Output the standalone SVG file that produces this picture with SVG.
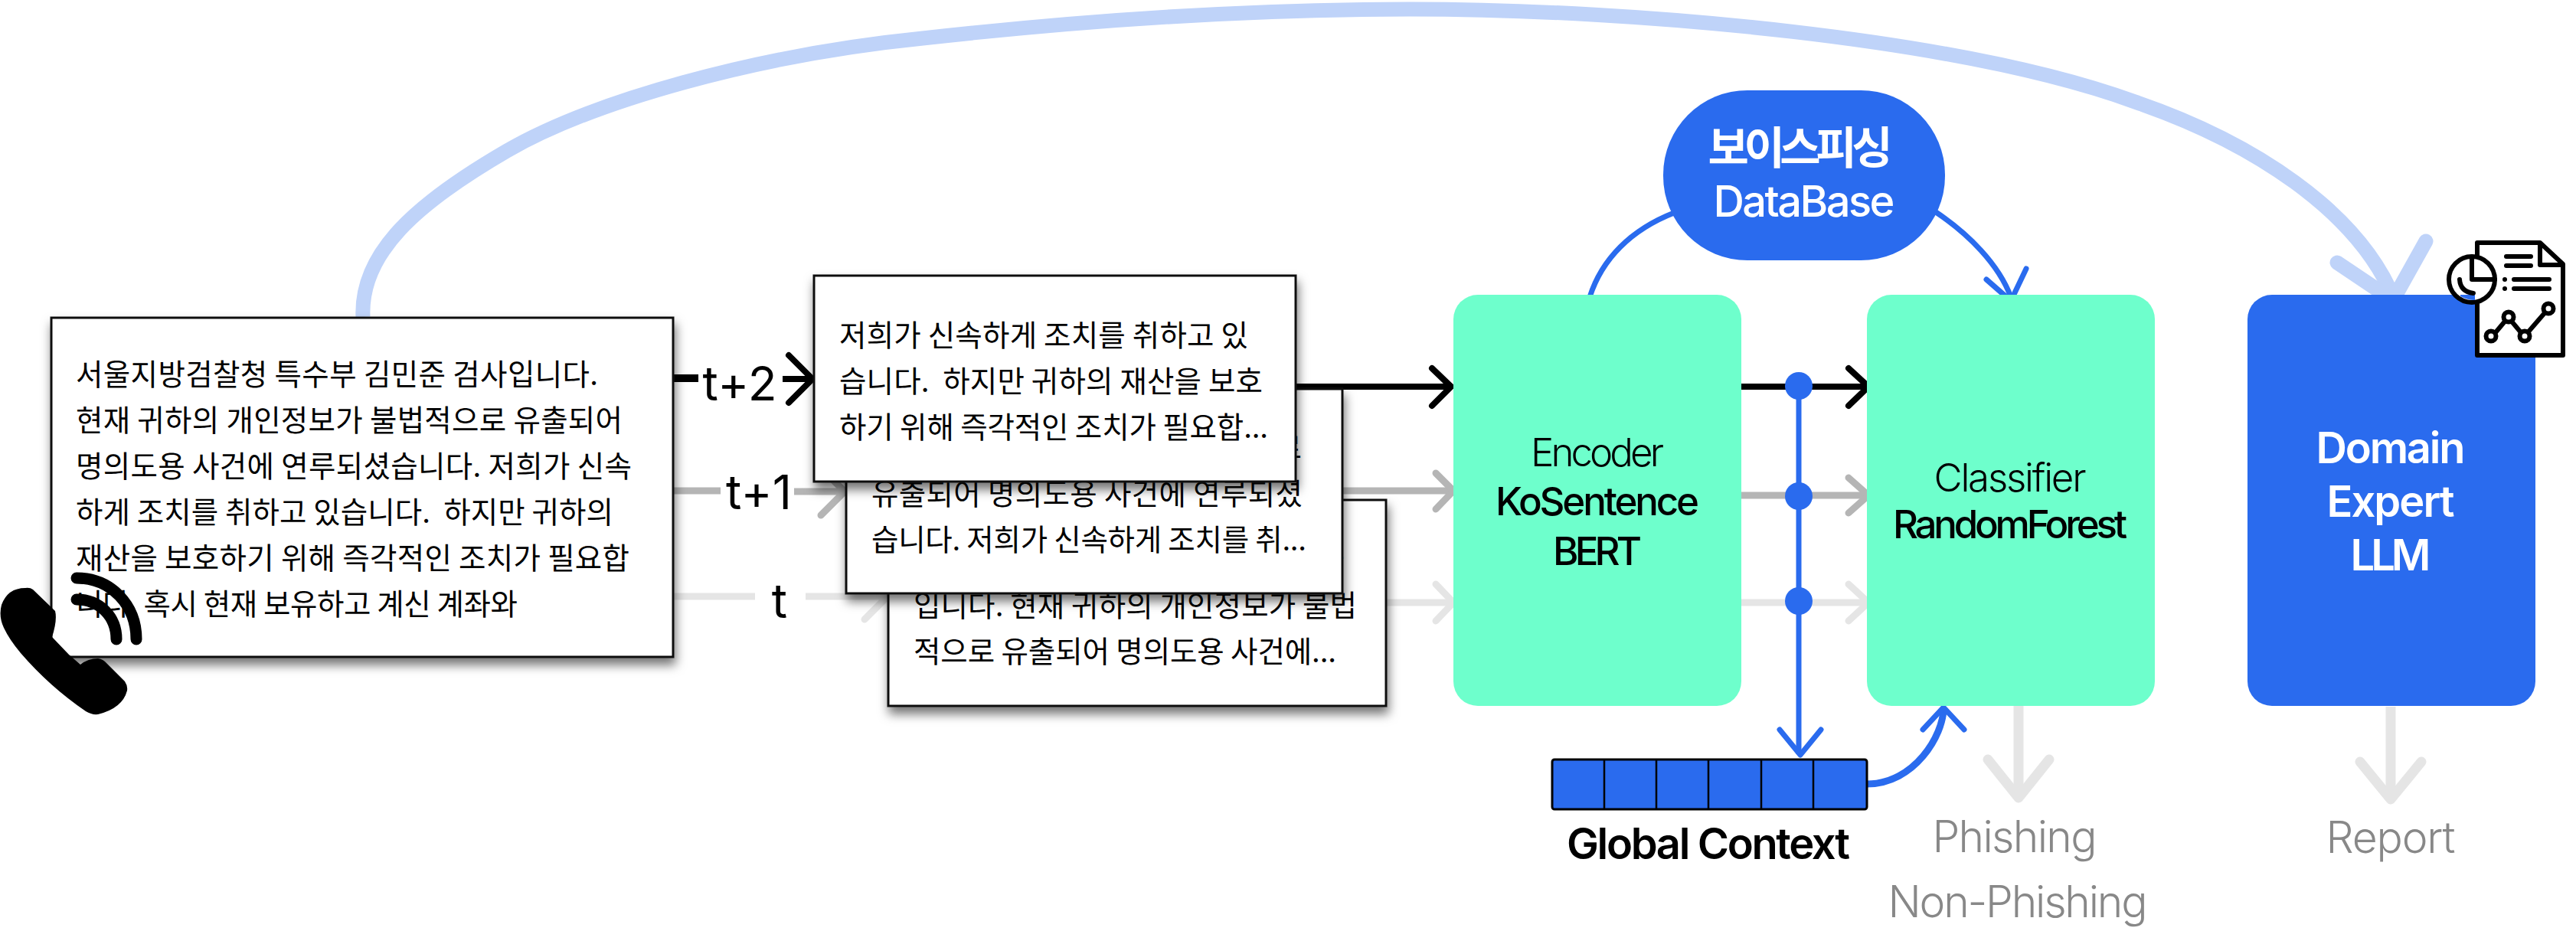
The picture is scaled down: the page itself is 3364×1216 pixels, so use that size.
<svg xmlns="http://www.w3.org/2000/svg" width="3364" height="1216" viewBox="0 0 3364 1216">
<style>
text{font-family:"Inter","Noto Sans CJK KR","Noto Sans",sans-serif;fill:#000;white-space:pre}
.k{font-family:"Noto Sans CJK KR","Noto Sans",sans-serif;font-size:38.5px;font-weight:400}
.m{text-anchor:middle}
.w{fill:#fff}
.g{fill:#888}
.card{fill:#fff;stroke:#111;stroke-width:3;filter:url(#sh)}
.ln{fill:none;stroke-linecap:round;stroke-linejoin:round}
.big{stroke:#bfd3f9;stroke-width:19}
.blk{stroke:#000;stroke-width:8}
.gr1{stroke:#b5b5b5;stroke-width:9}
.gr2{stroke:#e5e5e5;stroke-width:9}
.gr3{stroke:#e5e5e5;stroke-width:13}
.blu{stroke:#2a6bee;stroke-width:7}
.ic{fill:none;stroke:#000;stroke-width:6;stroke-linecap:round;stroke-linejoin:round}
.wave{fill:none;stroke:#000;stroke-width:15;stroke-linecap:round}
.bt{stroke-linecap:butt}
</style>
<defs>
<filter id="sh" x="-10%" y="-10%" width="120%" height="125%"><feDropShadow dx="2" dy="9" stdDeviation="7" flood-color="#000" flood-opacity="0.55"/></filter>
</defs>
<g id="connectors">
<path class="ln big bt" d="M474 414C470 330 545 265 662 197C773 133 985 72 1205 50C1420 26 1640 12 1841 12C2140 12 2560 50 2788 133C2940 185 3080 275 3127 392"/>
<path class="ln big" d="M3052 343L3125 392L3168 315"/>
<path class="ln gr2 bt" d="M880 779H986"/>
<path class="ln gr1 bt" d="M880 641H941"/>
<path class="ln blk bt" style="stroke-width:10" d="M880 494H912"/>
<path class="ln blk bt" d="M1022 495H1060"/>
<path class="ln blk" d="M1030 464L1061 495L1030 526"/>
<path class="ln gr1 bt" d="M1037 642H1100"/>
<path class="ln gr1" d="M1072 673L1103 642L1072 611"/>
<path class="ln gr2 bt" d="M1052 779H1158"/>
<path class="ln gr2" d="M1129 809L1159 779L1129 749"/>
<path class="ln blk bt" d="M1692 505H1893"/>
<path class="ln blk" d="M1870 481L1895 505L1870 530"/>
<path class="ln gr1 bt" d="M1753 641H1896"/>
<path class="ln gr1" d="M1875 618L1898 641L1875 665"/>
<path class="ln gr2 bt" d="M1811 787H1896"/>
<path class="ln gr2" d="M1875 763L1898 787L1875 811"/>
<path class="ln blk bt" d="M2274 505H2438"/>
<path class="ln blk" d="M2414 481L2440 505L2414 530"/>
<path class="ln gr1 bt" d="M2274 647H2438"/>
<path class="ln gr1" d="M2414 624L2440 647L2414 670"/>
<path class="ln gr2 bt" d="M2274 787H2438"/>
<path class="ln gr2" d="M2414 763L2440 787L2414 811"/>
<path class="ln blu bt" d="M2349 504V985"/>
<path class="ln blu" d="M2324 953L2351 986L2378 953"/>
<path class="ln blu bt" d="M2076 388C2092 338 2130 300 2186 278"/>
<path class="ln blu bt" d="M2528 277C2570 305 2610 345 2626 388"/>
<path class="ln blu" d="M2594 365L2626 393L2646 351"/>
<path class="ln blu bt" style="stroke-width:9" d="M2438 1024C2500 1024 2538 960 2538 925"/>
<path class="ln blu" d="M2511 953L2538 924L2565 953"/>
<path class="ln gr3 bt" d="M2636 922V1040"/>
<path class="ln gr3" d="M2596 992L2636 1042L2676 992"/>
<path class="ln gr3 bt" d="M3122 923V1042"/>
<path class="ln gr3" d="M3082 995L3122 1044L3162 995"/>
</g>
<g id="label-t2"><text x="966" y="523" class="m" font-size="62" textLength="97">t+2</text></g>
<g id="label-t1"><text x="991" y="665" class="m" font-size="62" textLength="86">t+1</text></g>
<g id="label-t"><text x="1018" y="807" class="m" font-size="62">t</text></g>
<g id="transcript-full">
<rect class="card" x="67" y="415" width="812" height="443"/>
<text class="k" x="99" y="503" textLength="682">서울지방검찰청 특수부 김민준 검사입니다.</text>
<text class="k" x="99" y="563" textLength="714">현재 귀하의 개인정보가 불법적으로 유출되어</text>
<text class="k" x="99" y="623" textLength="726">명의도용 사건에 연루되셨습니다. 저희가 신속</text>
<text class="k" x="99" y="683" textLength="702" xml:space="preserve">하게 조치를 취하고 있습니다.  하지만 귀하의</text>
<text class="k" x="99" y="743" textLength="723">재산을 보호하기 위해 즉각적인 조치가 필요합</text>
<text class="k" x="99" y="803" textLength="577">니다. 혹시 현재 보유하고 계신 계좌와</text>
</g>
<g id="phone-icon">
<path d="M43 770L72 798Q75 810 68 832L90 855L105 868Q115 860 128 860Q135 861 140 867L163 890Q167 896 166 902Q160 925 128 933Q120 934 112 929Q65 897 27 853Q12 835 5 820Q-2 805 2 790Q10 768 33 768Q39 767 43 770Z"/>
<path class="wave" d="M100 755C145 755 178 790 178 835"/>
<path class="wave" d="M100 783C130 783 152 805 152 835"/>
</g>
<g id="window-t">
<rect class="card" x="1160" y="653" width="650" height="269"/>
<text class="k" x="1193" y="745" textLength="562">서울지방검찰청 특수부 김민준 검사</text>
<text class="k" x="1193" y="805" textLength="579">입니다. 현재 귀하의 개인정보가 불법</text>
<text class="k" x="1193" y="865" textLength="552">적으로 유출되어 명의도용 사건에...</text>
</g>
<g id="window-t1">
<rect class="card" x="1105" y="508" width="648" height="267"/>
<text class="k" x="1138" y="599" textLength="562">현재 귀하의 개인정보가 불법적으로</text>
<text class="k" x="1138" y="659" textLength="563">유출되어 명의도용 사건에 연루되셨</text>
<text class="k" x="1138" y="719" textLength="568">습니다. 저희가 신속하게 조치를 취...</text>
</g>
<g id="window-t2">
<rect class="card" x="1063" y="360" width="629" height="269"/>
<text class="k" x="1096" y="452" textLength="534">저희가 신속하게 조치를 취하고 있</text>
<text class="k" x="1096" y="512" textLength="553" xml:space="preserve">습니다.  하지만 귀하의 재산을 보호</text>
<text class="k" x="1096" y="572" textLength="560">하기 위해 즉각적인 조치가 필요합...</text>
</g>
<g id="dots" fill="#2a6bee">
<ellipse cx="2349" cy="504" rx="18" ry="18"/>
<ellipse cx="2349" cy="648" rx="18" ry="18"/>
<ellipse cx="2349" cy="785" rx="18" ry="18"/>
</g>
<g id="encoder">
<rect x="1898" y="385" width="376" height="537" rx="32" fill="#6effcc"/>
<text class="m" x="2086" y="609" font-size="51" font-weight="300" textLength="174">Encoder</text>
<text class="m" x="2086" y="673" font-size="51" font-weight="500" textLength="266">KoSentence</text>
<text class="m" x="2086" y="738" font-size="51" font-weight="500" textLength="116">BERT</text>
</g>
<g id="classifier">
<rect x="2438" y="385" width="376" height="537" rx="32" fill="#6effcc"/>
<text class="m" x="2625" y="642" font-size="51" font-weight="300" textLength="199">Classifier</text>
<text class="m" x="2625" y="703" font-size="51" font-weight="500" textLength="306">RandomForest</text>
</g>
<g id="database">
<rect x="2172" y="118" width="368" height="222" rx="110" fill="#2a6bee"/>
<text class="m w" x="2351" y="214" font-size="58" font-weight="700" textLength="241">보이스피싱</text>
<text class="m w" x="2356" y="283" font-size="56" font-weight="500" textLength="237">DataBase</text>
</g>
<g id="domain-llm">
<rect x="2935" y="385" width="376" height="537" rx="32" fill="#2a6bee"/>
<text class="m w" x="3122" y="605" font-size="56" font-weight="600" textLength="195">Domain</text>
<text class="m w" x="3122" y="675" font-size="56" font-weight="600" textLength="167">Expert</text>
<text class="m w" x="3122" y="745" font-size="56" font-weight="600" textLength="105">LLM</text>
</g>
<g id="report-icon">
<path d="M3235 317H3317L3347 345V464H3235Z" fill="#fff" stroke="#000" stroke-width="6" stroke-linejoin="round"/>
<circle cx="3228" cy="365" r="30" fill="#fff" stroke="#000" stroke-width="6"/>
<path d="M3213 385H3232V392Q3222 392 3213 387Z" fill="#2a6bee"/>
<path class="ic" d="M3317 319V346H3345M3228 337V365H3258M3212 365Q3213 381 3230 383"/>
<path class="ic" d="M3273 335H3305M3273 347H3305M3283 365H3329M3283 377H3329M3260 433L3270 421M3281 421L3291 433M3303 432L3322 410"/>
<circle cx="3271" cy="365" r="3"/><circle cx="3271" cy="377" r="3"/>
<g class="ic"><circle cx="3253" cy="439" r="6.5"/><circle cx="3276" cy="414" r="6.5"/><circle cx="3297" cy="439" r="6.5"/><circle cx="3328" cy="403" r="6.5"/></g>
</g>
<g id="global-context">
<rect x="2027" y="992" width="411" height="65" rx="3" fill="#2a6bee" stroke="#000" stroke-width="3"/>
<path d="M2095 992v65M2163 992v65M2231 992v65M2300 992v65M2368 992v65" stroke="#000" stroke-width="2.5" fill="none"/>
<text class="m" x="2231" y="1122" font-size="56" font-weight="600" textLength="370">Global Context</text>
</g>
<g id="outputs">
<text class="m g" x="2631" y="1113" font-size="57" font-weight="300" textLength="215">Phishing</text>
<text class="m g" x="2635" y="1198" font-size="57" font-weight="300" textLength="339">Non-Phishing</text>
<text class="m g" x="3122" y="1114" font-size="57" font-weight="300" textLength="169">Report</text>
</g>
</svg>
